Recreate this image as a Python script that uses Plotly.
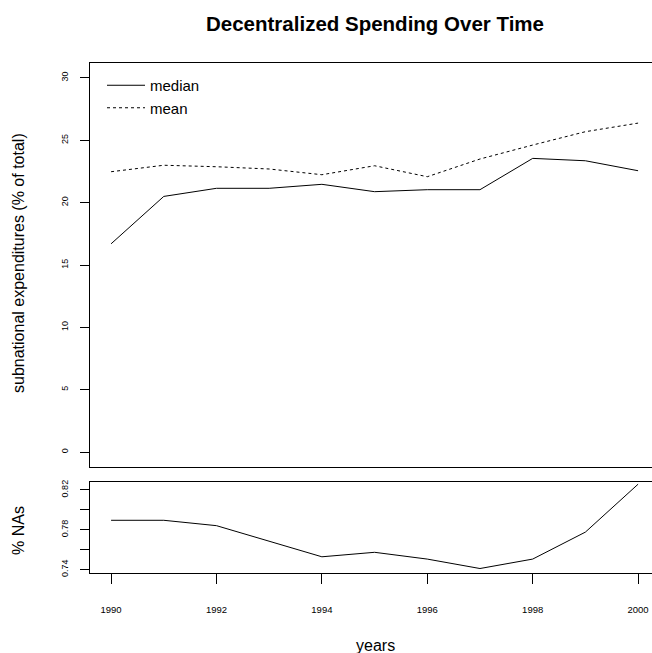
import plotly.graph_objects as go

years = [1990, 1991, 1992, 1993, 1994, 1995, 1996, 1997, 1998, 1999, 2000]
median_vals = [16.7, 20.5, 21.15, 21.15, 21.47, 20.88, 21.04, 21.04, 23.55, 23.36, 22.56]
mean_vals = [22.48, 23.0, 22.88, 22.7, 22.24, 22.96, 22.08, 23.5, 24.62, 25.69, 26.38]
pct_na = [0.7895, 0.7895, 0.7841, 0.7685, 0.7528, 0.7573, 0.7505, 0.741, 0.7505, 0.7776, 0.8258]

top_ticks = [0, 5, 10, 15, 20, 25, 30]
bot_ticks = [0.74, 0.76, 0.78, 0.80, 0.82]
bot_ticktext = ["0.74", "", "0.78", "", "0.82"]
x_ticks = [1990, 1992, 1994, 1996, 1998, 2000]

W, H = 652, 653
L, R, T, B = 90, 0, 63, 80
plot_w = W - L - R  # 562
plot_h = H - T - B  # 510

FONT = "Liberation Sans, Arial, sans-serif"


def px(wx):
    return (wx - L) / plot_w


def py(wy):
    return (H - B - wy) / plot_h


fig = go.Figure()
fig.add_trace(go.Scatter(x=years, y=median_vals, mode="lines", name="median",
                         line=dict(color="black", width=1), xaxis="x", yaxis="y"))
fig.add_trace(go.Scatter(x=years, y=mean_vals, mode="lines", name="mean",
                         line=dict(color="black", width=1, dash="dot"), xaxis="x", yaxis="y"))
fig.add_trace(go.Scatter(x=years, y=pct_na, mode="lines", showlegend=False,
                         line=dict(color="black", width=1), xaxis="x2", yaxis="y2"))

xr = [1989.6, 1989.6 + plot_w / 52.7]

top_dom = [py(467), 1.0]
bot_dom = [0.0, py(482)]

axis_common = dict(showgrid=False, zeroline=False, showline=True, linecolor="black",
                   linewidth=1)

fig.update_layout(
    width=W, height=H,
    margin=dict(l=L, r=R, t=T, b=B, pad=0),
    paper_bgcolor="white", plot_bgcolor="white",
    font=dict(family=FONT, color="black"),
    showlegend=True,
    legend=dict(x=px(102), y=py(69), xanchor="left", yanchor="top",
                bgcolor="rgba(0,0,0,0)", borderwidth=0, font=dict(size=15, family=FONT),
                tracegroupgap=0, itemwidth=38),
    xaxis=dict(**axis_common, domain=[0, 1], anchor="y", range=xr, mirror=True,
               showticklabels=False, ticks=""),
    yaxis=dict(**axis_common, domain=top_dom, anchor="x", range=[-1.2, 31.2],
               tickvals=top_ticks, ticks="outside", ticklen=9, tickcolor="black",
               tickangle=-90, tickfont=dict(size=9, family=FONT), ticklabelstandoff=8),
    xaxis2=dict(**axis_common, domain=[0, 1], anchor="y2", range=xr, mirror=True,
                tickvals=x_ticks, ticks="outside", ticklen=10, tickcolor="black",
                tickfont=dict(size=9.5, family=FONT), ticklabelstandoff=18),
    yaxis2=dict(**axis_common, domain=bot_dom, anchor="x2", range=[0.7365, 0.828],
                tickvals=bot_ticks, ticktext=bot_ticktext, ticks="outside", ticklen=9,
                tickcolor="black", tickangle=-90, tickfont=dict(size=9, family=FONT),
                ticklabelstandoff=8),
)

cx = px(375)
fig.add_annotation(text="<b>Decentralized Spending Over Time</b>", xref="paper", yref="paper",
                   x=cx, y=py(23), xanchor="center", yanchor="middle",
                   showarrow=False, font=dict(size=20.5, family=FONT))
fig.add_annotation(text="subnational expenditures (% of total)", xref="paper", yref="paper",
                   x=px(18), y=py(263), xanchor="center",
                   yanchor="middle", textangle=-90, showarrow=False,
                   font=dict(size=16, family=FONT))
fig.add_annotation(text="% NAs", xref="paper", yref="paper",
                   x=px(18), y=py(531), xanchor="center",
                   yanchor="middle", textangle=-90, showarrow=False,
                   font=dict(size=16, family=FONT))
fig.add_annotation(text="years", xref="paper", yref="paper",
                   x=cx, y=py(645), xanchor="center", yanchor="middle",
                   showarrow=False, font=dict(size=16, family=FONT))

# remove the browser's default 8px body margin so the figure fills the window
fig.write_html("out.html", config={"displayModeBar": False},
               post_script="document.body.style.margin='0';document.body.style.overflow='hidden';")
